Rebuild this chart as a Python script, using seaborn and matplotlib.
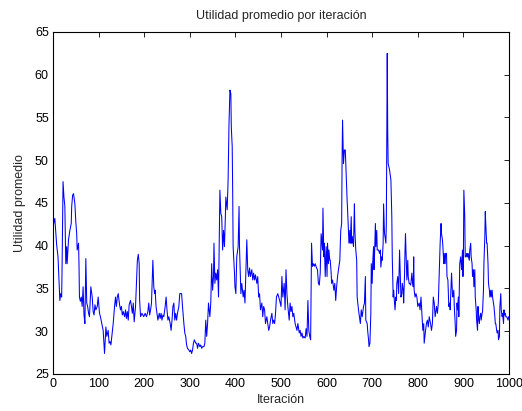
import matplotlib
matplotlib.use("Agg")
import matplotlib.pyplot as plt
import seaborn as sns
import pandas as pd

# (iteration, average utility)
iteraciones = [
    1, 4, 8, 11, 15, 17, 19, 20, 22, 24, 26, 28, 30, 31, 34, 37, 40, 41, 43, 45, 48, 50, 52, 53, 56, 57, 58, 60,
    62, 64, 66, 68, 70, 72, 74, 76, 78, 80, 83, 86, 88, 90, 92, 94, 97, 99, 102, 104,
    107, 110, 113, 116, 118, 121, 123, 125, 127, 129, 132, 135, 137, 139, 141, 143, 146, 148, 150, 152, 154,
    157, 159, 161, 163, 165, 167, 170, 172, 174, 176, 178, 181, 183, 185, 187, 189, 190, 192, 195, 197, 199,
    202, 205, 208, 210, 212, 214, 216, 219, 221, 223, 224, 226, 228, 230, 233, 235, 237, 239, 241, 243, 246,
    248, 250, 252, 254, 257, 259, 261, 263, 265, 267, 269, 271, 273, 276, 278, 280, 282, 284, 287, 289, 291,
    293, 295, 298, 300, 302, 304, 306, 308,
    310, 313, 315, 317, 319, 322, 324, 326, 328, 331, 333, 335, 337, 339, 341, 344, 346, 348, 350, 352, 353,
    355, 357, 359, 361, 363, 365, 366, 368, 370, 372, 374, 376, 378, 379, 382, 384, 386, 388, 390, 391, 393,
    394, 395, 398,
    399, 401, 403, 406, 408, 409, 411, 412, 414, 417, 419, 421, 423, 425, 427, 429, 431, 433, 436, 438, 440,
    442, 444, 447, 449, 451, 453, 455, 458, 460, 462, 464, 466, 469, 471, 473, 475, 477, 480, 482, 484, 486,
    488, 490, 493, 495, 497,
    500, 502, 504, 507, 509, 511, 513, 515, 518, 520, 522, 524, 526, 528, 531, 533, 535, 537, 540, 542, 544,
    546, 548, 550, 553, 555, 557, 559, 561, 563, 565, 567, 569, 571, 573, 575, 578, 580, 582, 584, 586, 588,
    591, 592, 594, 595, 597,
    599, 601, 602, 604, 605, 607, 608, 610, 611, 613, 616, 618, 620, 622, 624, 626, 629, 631, 633, 634, 635,
    637, 639, 641, 643, 645, 646, 648, 649, 651, 652, 654, 655, 656, 659, 661, 662, 664, 666, 667, 670, 672,
    674, 676, 678, 681, 683, 685, 686, 689, 690, 692, 693,
    695, 697, 698, 700, 701, 703, 704, 705, 707, 708, 710, 711, 714, 716, 718, 719, 721, 722, 724, 725, 727,
    728, 730, 731, 733, 734, 735, 738, 740, 741, 743, 744, 746, 747, 749, 750, 752, 753, 754, 756, 758, 760,
    762, 763, 765, 766, 768, 769, 771, 772, 773, 775, 776, 778, 779, 781, 782, 784, 785, 787, 788, 790, 791,
    792, 794,
    796, 798, 800, 803, 805, 807, 809, 811, 813, 814, 817, 819, 821, 823, 825, 828, 830, 832, 834, 836, 838,
    841, 843, 845, 847, 848, 849, 851, 852, 854, 855, 857, 858, 860, 861, 863, 864, 866, 867, 868, 870, 871,
    873, 874, 876, 877, 879, 880, 882, 883, 885, 886, 887, 889, 890, 892,
    894, 896, 898, 899, 900, 901, 903, 904, 906, 907, 909, 910, 911, 913, 914, 916, 917, 919, 920, 922, 923,
    925, 926, 928, 929, 931, 932, 933, 935, 936, 938, 939, 941, 942, 944, 945, 947, 948, 949, 951, 952, 954,
    955, 957, 958, 960, 961, 963, 964, 966, 967, 969, 970, 971, 973, 974, 976, 977, 979, 980, 982, 983, 985,
    986, 988, 989, 990, 992, 993, 995, 998, 999,
]

utilidad = [
    42.5, 43.2, 40.1, 38.7, 33.6, 34.4, 34.0, 37.9, 47.5, 45.7, 44.6, 37.9, 39.9, 37.9, 40.7, 41.8, 42.6, 44.6,
    45.9, 46.1, 44.9, 42.8, 41.4, 39.5, 40.3, 37.9, 34.0, 33.5,
    34.0, 32.9, 35.2, 31.9, 30.9, 38.5, 33.3, 32.9, 32.1, 31.7, 35.2, 34.0, 32.3, 31.9, 33.1, 32.5, 32.9, 34.0,
    32.1, 31.7,
    30.9, 30.1, 27.4, 30.5, 29.4, 30.1, 28.6, 28.8, 28.4, 29.4, 30.9, 32.9, 34.0, 32.9, 34.0, 34.4, 33.1, 32.5,
    32.9, 31.9, 32.3,
    31.7, 32.5, 31.5, 32.3, 31.3, 33.1, 33.6, 32.9, 32.1, 33.3, 31.1, 32.9, 35.6, 38.3, 39.0, 37.9, 33.6, 31.7,
    32.1, 31.9, 31.7,
    32.1, 31.7, 32.3, 33.3, 31.9, 32.5, 33.3, 38.3, 35.2, 34.4, 34.8, 32.9, 32.1, 31.3, 32.1, 31.5, 32.1, 31.3,
    31.9, 31.7, 32.9,
    34.0, 32.5, 31.3, 31.7, 30.9, 30.1, 31.3, 32.9, 33.3, 31.3, 32.1, 31.3, 32.1, 32.9, 34.4, 34.4, 34.4, 32.9,
    30.9, 29.8, 29.4,
    28.4, 28.0, 27.8, 27.6, 27.8, 27.4, 27.8, 28.6,
    29.0, 28.6, 28.6, 28.0, 28.6, 28.2, 28.4, 28.0, 28.2, 28.2, 28.6, 31.3, 29.4, 30.9, 33.3, 31.7, 33.3, 37.9,
    34.8, 36.4, 40.3,
    35.6, 36.8, 36.0, 37.2, 34.0, 41.8, 46.5, 43.8, 43.4, 39.5, 41.8, 39.9, 43.4, 45.7, 44.2, 47.7, 54.3, 58.2,
    57.8, 53.9, 51.6,
    46.5, 39.9, 36.8,
    35.2, 34.4, 38.7, 39.9, 44.6, 39.9, 36.4, 34.4, 35.6, 34.0, 34.8, 33.3, 37.2, 40.7, 37.2, 36.4, 37.4, 36.4,
    37.2, 36.0, 36.8,
    36.0, 36.6, 35.6, 36.4, 34.0, 34.4, 32.5, 33.3, 31.7, 32.9, 32.5, 30.9, 31.7, 30.9, 30.1, 30.5, 31.3, 32.1,
    30.9, 31.3, 30.9,
    32.1, 34.0, 34.4, 34.0, 33.6,
    32.9, 36.4, 34.0, 35.6, 32.5, 37.2, 34.4, 32.9, 31.3, 33.3, 32.3, 32.9, 31.7, 32.1, 30.9, 30.5, 30.1, 30.9,
    29.8, 30.1, 29.4,
    29.8, 29.2, 29.4, 29.2, 30.3, 29.4, 33.6, 30.1, 29.4, 29.0, 40.3, 37.6, 37.9, 37.6, 37.9, 37.4, 37.2, 35.6,
    35.4, 36.8, 41.4,
    39.5, 44.4, 38.7, 40.3, 36.4,
    39.9, 36.4, 40.3, 37.9, 39.5, 38.3, 38.3, 36.8, 35.6, 36.0, 34.8, 35.6, 33.6, 35.2, 36.4, 37.2, 38.3, 41.8,
    42.6, 50.4, 54.7,
    49.6, 51.2, 51.2, 48.1, 45.3, 44.2, 41.4, 40.3, 41.8, 40.3, 43.4, 40.3, 41.1, 39.9, 44.9, 41.8, 39.5, 38.3,
    34.0, 32.5, 31.7,
    30.9, 32.5, 31.7, 32.9, 33.3, 36.4, 31.3, 30.9, 30.1, 29.0, 28.2,
    28.6, 32.1, 37.9, 35.6, 37.9, 39.9, 37.2, 38.7, 42.6, 39.9, 41.8, 39.5, 39.5, 39.1, 39.5, 37.5, 38.7, 38.3,
    40.3, 44.9, 41.4,
    41.1, 40.3, 42.6, 62.5, 53.5, 49.6, 48.9, 48.1, 47.7, 43.4, 38.7, 34.0, 34.8, 33.3, 32.5, 34.0, 33.6, 35.6,
    36.4, 34.4, 39.5,
    36.0, 34.0, 34.4, 35.6, 34.8, 33.3, 36.8, 39.5, 41.4, 37.9, 36.0, 38.3, 36.4, 35.6, 35.6, 35.4, 35.6, 36.8,
    36.0, 35.2, 38.7,
    34.8, 34.0,
    34.4, 34.0, 32.9, 33.3, 32.5, 34.0, 32.1, 30.1, 30.9, 28.6, 30.1, 30.9, 31.3, 30.5, 31.7, 30.9, 30.1, 30.9,
    34.0, 33.3, 31.7,
    32.9, 32.1, 33.3, 36.8, 38.7, 40.3, 42.6, 41.4, 40.7, 39.9, 37.9, 39.1, 37.9, 39.1, 39.1, 36.4, 36.0, 34.4,
    32.9, 33.3, 32.5,
    35.6, 36.8, 34.4, 34.0, 34.8, 32.9, 30.9, 29.4, 30.1, 33.3, 32.5, 34.0, 31.7, 37.9,
    38.7, 37.2, 39.5, 36.4, 38.7, 46.5, 43.4, 38.7, 38.7, 39.1, 38.7, 39.1, 38.7, 38.3, 39.5, 40.3, 38.7, 37.9,
    36.4, 37.2, 35.2,
    37.2, 34.0, 32.5, 31.3, 30.1, 32.9, 31.7, 30.9, 31.7, 32.1, 31.3, 32.1, 32.3, 34.8, 37.9, 41.1, 44.0, 42.6,
    40.3, 40.3, 37.9,
    35.6, 34.8, 34.0, 34.8, 34.0, 34.8, 34.0, 33.3, 32.9, 31.7, 30.9, 30.9, 30.1, 29.8, 30.1, 29.0, 29.4, 32.9,
    34.4, 32.5, 31.7,
    32.1, 30.9, 32.5, 31.9, 32.1, 31.7, 31.7, 31.3, 31.7,
]

x_ticks = [0, 100, 200, 300, 400, 500, 600, 700, 800, 900, 1000]
y_ticks = [25, 30, 35, 40, 45, 50, 55, 60, 65]

df = pd.DataFrame({"Iteración": iteraciones, "Utilidad": utilidad})

sns.set_style("white")
plt.rcParams["font.family"] = ["Liberation Sans", "DejaVu Sans"]

fig = plt.figure(figsize=(5.22, 4.11), dpi=100)
ax = fig.add_axes([53 / 522, (411 - 374) / 411, (509 - 53) / 522, (374 - 32) / 411])

sns.lineplot(data=df, x="Iteración", y="Utilidad", ax=ax, color="#0000ff",
             linewidth=0.75, estimator=None, sort=False)

ax.set_xlim(0, 1000)
ax.set_ylim(25, 65)
ax.set_xticks(x_ticks)
ax.set_yticks(y_ticks)
ax.tick_params(direction="in", top=True, right=True, length=3.5, width=0.6,
               labelsize=9, colors="black", pad=3)
for s in ax.spines.values():
    s.set_visible(True)
    s.set_color("black")
    s.set_linewidth(0.8)

ax.set_title("Utilidad promedio por iteración", fontsize=9, pad=9)
ax.set_xlabel("Iteración", fontsize=9, labelpad=3)
ax.set_ylabel("Utilidad promedio", fontsize=9, labelpad=6)

fig.savefig("out.png", dpi=100)
